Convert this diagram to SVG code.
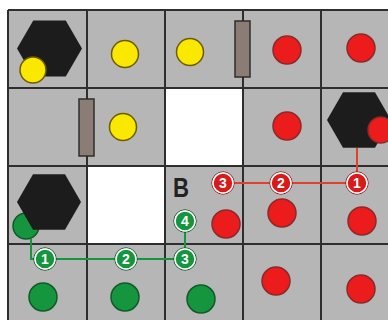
<svg xmlns="http://www.w3.org/2000/svg" width="388" height="320" viewBox="0 0 388 320">
<defs>
<style>
.cell{fill:#b6b6b6}
.white{fill:#ffffff}
.grid{stroke:#2e2e2e;stroke-width:2;fill:none}
.hex{fill:#1c1c1c}
.yel{fill:#fbe800;stroke:#6e5c00;stroke-width:1.5}
.red{fill:#ec1c1c;stroke:#8a2a2a;stroke-width:1.5}
.grn{fill:#16953f;stroke:#0f5a28;stroke-width:1.5}
.bar{fill:#8c7c76;stroke:#2e2e2e;stroke-width:1.5}
.rb{fill:#d91a1a;stroke:#ffffff;stroke-width:1.5}
.rbo{fill:none;stroke:#9a1a1a;stroke-width:1}
.gb{fill:#16953f;stroke:#ffffff;stroke-width:1.5}
.gbo{fill:none;stroke:#0f5a28;stroke-width:1}
.num{font-family:"Liberation Sans",Arial,sans-serif;font-weight:bold;font-size:14px;fill:#ffffff;text-anchor:middle}
.rl{stroke:#e0402c;stroke-width:2;fill:none}
.gl{stroke:#16953f;stroke-width:2;fill:none}
</style>
</defs>
<rect width="388" height="320" fill="#ffffff"/>
<g id="board">
<rect class="cell" x="8" y="10" width="380" height="310"/>
<rect class="white" x="165" y="88" width="78" height="78"/>
<rect class="white" x="87" y="166" width="78" height="78"/>
<path class="grid" d="M8,10 H388 M8,88 H388 M8,166 H388 M8,244 H388 M8,10 V320 M87,10 V320 M165,10 V320 M243,10 V320 M321,10 V320"/>
</g>
<g id="hex1"><polygon class="hex" points="17,48.5 33.25,20.4 65.75,20.4 82,48.5 65.75,76.6 33.25,76.6"/></g>
<g id="hex2"><polygon class="hex" points="327,120 343,92.3 375,92.3 391,120 375,147.7 343,147.7"/></g>
<g id="green-a"><circle class="grn" cx="26" cy="226" r="13"/></g>
<g id="hex3"><polygon class="hex" points="17,202 33,174.3 65,174.3 81,202 65,229.7 33,229.7"/></g>
<g id="bar1"><rect class="bar" x="235" y="21" width="15" height="56"/></g>
<g id="bar2"><rect class="bar" x="79" y="99" width="15" height="57"/></g>
<g id="yellow">
<circle class="yel" cx="33" cy="70" r="13"/>
<circle class="yel" cx="125" cy="54" r="13.5"/>
<circle class="yel" cx="190" cy="52" r="13.5"/>
<circle class="yel" cx="123" cy="127" r="13.5"/>
</g>
<g id="red">
<circle class="red" cx="287" cy="50" r="14"/>
<circle class="red" cx="361" cy="48" r="14"/>
<circle class="red" cx="287" cy="126" r="14"/>
<circle class="red" cx="381" cy="130" r="13"/>
<circle class="red" cx="226" cy="224" r="14"/>
<circle class="red" cx="282" cy="213" r="14"/>
<circle class="red" cx="362" cy="221" r="14"/>
<circle class="red" cx="276" cy="281" r="14"/>
<circle class="red" cx="361" cy="289" r="14"/>
</g>
<g id="green">
<circle class="grn" cx="43" cy="297" r="14"/>
<circle class="grn" cx="125" cy="297" r="14"/>
<circle class="grn" cx="201" cy="299" r="14"/>
</g>
<g id="label-B"><text x="173" y="197" font-family="'Liberation Sans',Arial,sans-serif" font-weight="bold" font-size="28" fill="#222222" textLength="16" lengthAdjust="spacingAndGlyphs">B</text></g>
<g id="connectors">
<path class="rl" d="M357,148 V183 H223"/>
<path class="gl" d="M31,239 V259 H185 V221"/>
</g>
<g id="red-badges">
<g id="r1"><circle class="rbo" cx="357" cy="183" r="11.2"/><circle class="rb" cx="357" cy="183" r="10"/><text class="num" x="357" y="188">1</text></g>
<g id="r2"><circle class="rbo" cx="281" cy="183" r="11.2"/><circle class="rb" cx="281" cy="183" r="10"/><text class="num" x="281" y="188">2</text></g>
<g id="r3"><circle class="rbo" cx="223" cy="183" r="11.2"/><circle class="rb" cx="223" cy="183" r="10"/><text class="num" x="223" y="188">3</text></g>
</g>
<g id="green-badges">
<g id="g1"><circle class="gbo" cx="45" cy="259" r="11.2"/><circle class="gb" cx="45" cy="259" r="10"/><text class="num" x="45" y="264">1</text></g>
<g id="g2"><circle class="gbo" cx="126" cy="259" r="11.2"/><circle class="gb" cx="126" cy="259" r="10"/><text class="num" x="126" y="264">2</text></g>
<g id="g3"><circle class="gbo" cx="185" cy="259" r="11.2"/><circle class="gb" cx="185" cy="259" r="10"/><text class="num" x="185" y="264">3</text></g>
<g id="g4"><circle class="gbo" cx="185" cy="221" r="11.2"/><circle class="gb" cx="185" cy="221" r="10"/><text class="num" x="185" y="226">4</text></g>
</g>
</svg>
